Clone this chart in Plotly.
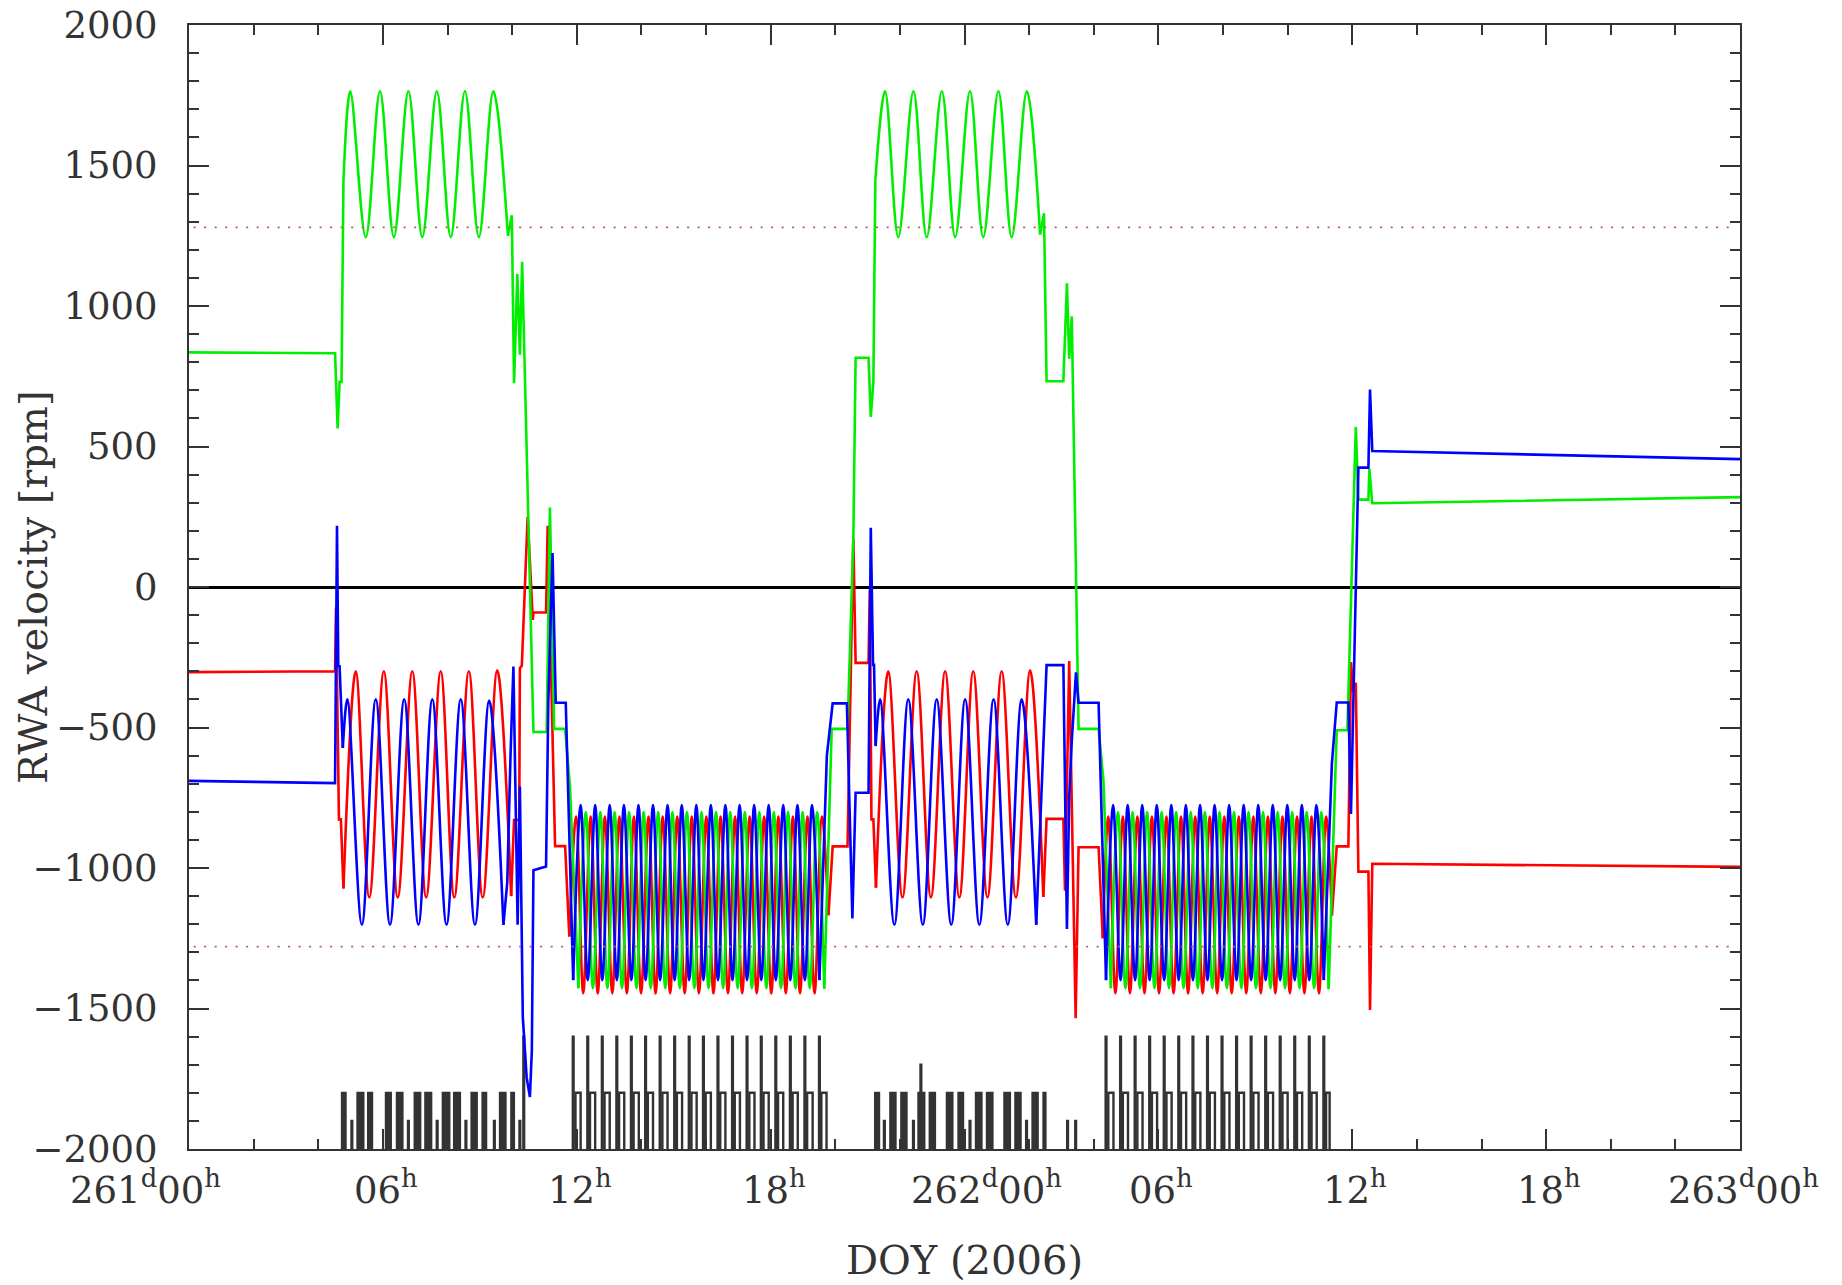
import plotly.graph_objects as go

# ---------------- data (hours since 261d00h, rpm) ----------------
red_a_t = [0.0, 4.52, 4.55, 4.64, 4.70, 4.78]
red_a_v = [-303, -300, -73, -827, -827, -1073]
red_s1_t = [4.78, 5.16, 5.58, 6.03, 6.46, 6.91, 7.34, 7.79, 8.21, 8.66, 9.09, 9.54, 9.97]
red_s1_v = [-1073, -300, -1105, -300, -1105, -300, -1105, -300, -1105, -300, -1105, -296, -1100]
red_b_t = [9.97, 10.06, 10.22, 10.24, 10.30, 10.48, 10.64, 10.66, 11.05, 11.10, 11.33, 11.64, 11.77]
red_b_v = [-1100, -829, -829, -289, -280, 250, -117, -91, -91, 218, -922, -922, -1244]
red_f1_t = [11.77, 11.98, 12.20, 12.43, 12.65, 12.87, 13.10, 13.32, 13.55, 13.77, 13.99, 14.22, 14.44,
            14.66, 14.89, 15.11, 15.34, 15.56, 15.78, 16.01, 16.23, 16.45, 16.68, 16.90, 17.12, 17.35,
            17.57, 17.80, 18.02, 18.24, 18.47, 18.69, 18.91, 19.14, 19.36, 19.59, 19.79]
red_f1_v = [-1244, -817, -1446, -817, -1446, -817, -1446, -817, -1446, -817, -1446, -817, -1446,
            -817, -1446, -817, -1446, -817, -1446, -817, -1446, -817, -1446, -817, -1446, -817,
            -1446, -817, -1446, -817, -1446, -817, -1446, -817, -1446, -817, -1168]
red_c_t = [19.79, 19.92, 20.38, 20.56, 20.63, 21.03, 21.07, 21.12, 21.18, 21.26]
red_c_v = [-1168, -923, -923, 173, -270, -270, -9, -827, -827, -1070]
red_s2_t = [21.26, 21.64, 22.08, 22.52, 22.96, 23.40, 23.84, 24.27, 24.71, 25.15, 25.59, 26.03, 26.44]
red_s2_v = [-1070, -300, -1105, -300, -1105, -300, -1105, -300, -1105, -300, -1105, -296, -1103]
red_d_t = [26.44, 26.54, 27.06, 27.11, 27.24, 27.44, 27.53, 28.15, 28.28]
red_d_v = [-1103, -825, -825, -1081, -263, -1535, -926, -926, -1250]
red_f2_t = [28.28, 28.45, 28.67, 28.90, 29.12, 29.35, 29.57, 29.80, 30.02, 30.25, 30.47, 30.70, 30.92,
            31.14, 31.37, 31.59, 31.82, 32.04, 32.27, 32.49, 32.72, 32.94, 33.17, 33.39, 33.62, 33.84,
            34.07, 34.29, 34.52, 34.74, 34.97, 35.19, 35.37]
red_f2_v = [-1250, -817, -1446, -817, -1446, -817, -1446, -817, -1446, -817, -1446, -817, -1446,
            -817, -1446, -817, -1446, -817, -1446, -817, -1446, -817, -1446, -817, -1446, -817,
            -1446, -817, -1446, -817, -1446, -817, -1169]
red_e_t = [35.37, 35.52, 35.88, 35.96, 36.03, 36.11, 36.19, 36.50, 36.55, 36.62, 48.0]
red_e_v = [-1169, -923, -923, -267, -374, -341, -1013, -1013, -1505, -985, -996]

blue_a_t = [0.0, 4.52, 4.58, 4.62, 4.66, 4.76]
blue_a_v = [-690, -698, 218, -282, -282, -573]
blue_s1_t = [4.76, 4.90, 5.35, 5.78, 6.22, 6.66, 7.10, 7.53, 7.97, 8.41, 8.85, 9.29, 9.73]
blue_s1_v = [-573, -400, -1202, -400, -1202, -400, -1202, -400, -1202, -400, -1202, -404, -1202]
blue_b_t = [9.73, 9.85, 9.95, 10.04, 10.17, 10.24, 10.33, 10.45, 10.55, 10.61, 10.66, 11.05, 11.12,
            11.25, 11.35, 11.66, 11.89]
blue_b_v = [-1202, -1050, -600, -283, -1202, -710, -1530, -1746, -1815, -1650, -1008, -995, -412,
            121, -412, -412, -1399]
blue_f1_t = [11.89, 12.12, 12.34, 12.57, 12.79, 13.02, 13.24, 13.46, 13.69, 13.91, 14.13, 14.36, 14.58,
             14.81, 15.03, 15.25, 15.48, 15.70, 15.92, 16.15, 16.37, 16.60, 16.82, 17.04, 17.27, 17.49,
             17.71, 17.94, 18.16, 18.39, 18.61, 18.83, 19.06, 19.28, 19.51]
blue_f1_v = [-1399, -776, -1399, -776, -1399, -776, -1399, -776, -1399, -776, -1399, -776, -1399,
             -776, -1399, -776, -1399, -776, -1399, -776, -1399, -776, -1399, -776, -1399, -776,
             -1399, -776, -1399, -776, -1399, -776, -1399, -776, -1399]
blue_c_t = [19.51, 19.74, 19.92, 20.36, 20.53, 20.63, 21.03, 21.10, 21.17, 21.20, 21.25]
blue_c_v = [-1399, -600, -414, -414, -1180, -732, -732, 211, -277, -277, -566]
blue_s2_t = [21.25, 21.39, 21.83, 22.26, 22.71, 23.14, 23.59, 24.02, 24.46, 24.90, 25.34, 25.77, 26.22]
blue_s2_v = [-566, -400, -1202, -400, -1202, -400, -1202, -400, -1202, -400, -1202, -400, -1202]
blue_d_t = [26.22, 26.40, 26.54, 27.06, 27.17, 27.24, 27.32, 27.45, 27.53, 28.15, 28.38]
blue_d_v = [-1202, -700, -278, -278, -1217, -749, -548, -304, -412, -412, -1399]
blue_f2_t = [28.38, 28.60, 28.83, 29.05, 29.28, 29.50, 29.73, 29.95, 30.18, 30.40, 30.63, 30.85, 31.07,
             31.29, 31.52, 31.74, 31.97, 32.19, 32.42, 32.64, 32.87, 33.09, 33.32, 33.54, 33.77, 33.99,
             34.22, 34.44, 34.67, 34.89, 35.12]
blue_f2_v = [-1399, -776, -1399, -776, -1399, -776, -1399, -776, -1399, -776, -1399, -776, -1399,
             -776, -1399, -776, -1399, -776, -1399, -776, -1399, -776, -1399, -776, -1399, -776,
             -1399, -776, -1399, -776, -1399]
blue_e_t = [35.12, 35.37, 35.52, 35.88, 35.96, 36.19, 36.50, 36.55, 36.62, 48.0]
blue_e_v = [-1398, -628, -411, -411, -808, 425, 425, 703, 484, 455]

green_a_t = [0.0, 4.52, 4.60, 4.66, 4.72, 4.78]
green_a_v = [835, 832, 564, 730, 730, 1445]
green_s1_t = [4.78, 4.99, 5.47, 5.91, 6.34, 6.79, 7.22, 7.67, 8.10, 8.54, 8.97, 9.42, 9.87]
green_s1_v = [1445, 1764, 1245, 1764, 1245, 1764, 1245, 1764, 1245, 1764, 1245, 1764, 1250]
green_b_t = [9.87, 9.99, 10.06, 10.16, 10.24, 10.31, 10.66, 11.07, 11.17, 11.30, 11.64, 11.79, 12.05]
green_b_v = [1250, 1323, 725, 1114, 827, 1157, -516, -516, 283, -505, -505, -710, -1428]
green_f1_t = [12.05, 12.28, 12.50, 12.73, 12.95, 13.17, 13.40, 13.62, 13.85, 14.07, 14.29, 14.52, 14.74,
              14.96, 15.19, 15.41, 15.64, 15.86, 16.08, 16.31, 16.53, 16.75, 16.98, 17.20, 17.42, 17.65,
              17.87, 18.10, 18.32, 18.54, 18.77, 18.99, 19.21, 19.44, 19.66]
green_f1_v = [-1428, -801, -1428, -801, -1428, -801, -1428, -801, -1428, -801, -1428, -801, -1428,
              -801, -1428, -801, -1428, -801, -1428, -801, -1428, -801, -1428, -801, -1428, -801,
              -1428, -801, -1428, -801, -1428, -801, -1428, -801, -1430]
green_c_t = [19.66, 19.89, 20.38, 20.56, 20.63, 21.03, 21.10, 21.18, 21.24]
green_c_v = [-1430, -505, -505, 173, 816, 816, 605, 730, 1445]
green_s2_t = [21.24, 21.54, 21.95, 22.42, 22.83, 23.30, 23.71, 24.17, 24.58, 25.05, 25.46, 25.93, 26.34]
green_s2_v = [1445, 1764, 1245, 1764, 1245, 1764, 1245, 1764, 1245, 1764, 1245, 1764, 1254]
green_d_t = [26.34, 26.46, 26.54, 27.06, 27.17, 27.24, 27.32, 27.53, 28.15, 28.30, 28.53]
green_d_v = [1254, 1330, 732, 732, 1081, 812, 963, -505, -505, -689, -1428]
green_f2_t = [28.53, 28.75, 28.98, 29.20, 29.43, 29.65, 29.88, 30.10, 30.33, 30.55, 30.78, 31.00, 31.22,
              31.44, 31.67, 31.89, 32.12, 32.34, 32.57, 32.79, 33.02, 33.24, 33.47, 33.69, 33.92, 34.14,
              34.37, 34.59, 34.82, 35.04, 35.27]
green_f2_v = [-1428, -801, -1428, -801, -1428, -801, -1428, -801, -1428, -801, -1428, -801, -1428,
              -801, -1428, -801, -1428, -801, -1428, -801, -1428, -801, -1428, -801, -1428, -801,
              -1428, -801, -1428, -801, -1431]
green_e_t = [35.27, 35.52, 35.85, 36.11, 36.19, 36.50, 36.53, 36.62, 48.0]
green_e_v = [-1431, -510, -510, 569, 311, 311, 420, 298, 320]

# black activity trace at the bottom
block_start = [4.73, 5.21, 5.54, 6.09, 6.43, 6.98, 7.31, 7.85, 8.20, 8.74, 9.08, 9.62, 9.97,
               21.23, 21.70, 22.04, 22.57, 22.92, 23.45, 23.81, 24.35, 24.69, 25.23, 25.57, 26.10, 26.44]
block_end = [4.85, 5.40, 5.67, 6.25, 6.61, 7.16, 7.50, 8.06, 8.39, 8.91, 9.20, 9.80, 10.06,
             21.36, 21.87, 22.21, 22.76, 23.09, 23.63, 23.96, 24.53, 24.87, 25.41, 25.74, 26.27, 26.51]
block_level = -1800
spike_t = [5.04, 6.79, 7.68, 8.57, 9.45, 10.24, 10.36, 22.65, 21.52, 22.42, 24.17, 25.92, 27.19, 27.44,
           11.89, 12.34, 12.79, 13.24, 13.69, 14.13, 14.58, 15.03, 15.48, 15.92, 16.37, 16.82, 17.27,
           17.71, 18.16, 18.61, 19.06, 19.51,
           28.38, 28.83, 29.28, 29.73, 30.18, 30.63, 31.07, 31.52, 31.97, 32.42, 32.87, 33.32, 33.77,
           34.22, 34.67, 35.12]
spike_v = [-1900, -1900, -1900, -1900, -1900, -1900, -1600, -1700, -1900, -1900, -1900, -1900, -1900, -1900,
           -1600, -1600, -1600, -1600, -1600, -1600, -1600, -1600, -1600, -1600, -1600, -1600, -1600,
           -1600, -1600, -1600, -1600, -1600,
           -1600, -1600, -1600, -1600, -1600, -1600, -1600, -1600, -1600, -1600, -1600, -1600, -1600,
           -1600, -1600, -1600]
box_start = [11.96, 12.41, 12.86, 13.31, 13.76, 14.20, 14.65, 15.10, 15.55, 15.99, 16.44, 16.89, 17.34,
             17.78, 18.23, 18.68, 19.13, 19.57,
             28.45, 28.90, 29.35, 29.80, 30.25, 30.70, 31.14, 31.59, 32.04, 32.49, 32.94, 33.39, 33.84,
             34.29, 34.74, 35.19]
box_end = [12.12, 12.57, 13.02, 13.47, 13.92, 14.36, 14.81, 15.26, 15.71, 16.15, 16.60, 17.05, 17.50,
           17.94, 18.39, 18.84, 19.30, 19.73,
           28.61, 29.06, 29.51, 29.96, 30.41, 30.86, 31.30, 31.75, 32.20, 32.65, 33.10, 33.55, 34.00,
           34.45, 34.90, 35.30]
box_level = -1800

limit_rpm = 1280
x_tickvals = [0, 6, 12, 18, 24, 30, 36, 42, 48]
x_ticktext = ["261<sup>d</sup>00<sup>h</sup>", "06<sup>h</sup>", "12<sup>h</sup>", "18<sup>h</sup>",
              "262<sup>d</sup>00<sup>h</sup>", "06<sup>h</sup>", "12<sup>h</sup>", "18<sup>h</sup>",
              "263<sup>d</sup>00<sup>h</sup>"]
y_tickvals = [-2000, -1500, -1000, -500, 0, 500, 1000, 1500, 2000]
y_ticktext = ["\u22122000", "\u22121500", "\u22121000", "\u2212500", "0", "500", "1000", "1500", "2000"]
Y_MIN, Y_MAX = -2000, 2000

# ---------------- figure ----------------
fig = go.Figure()
FONT = "DejaVu Serif"
INK = "#333333"
FS = 37
FS_TITLE = 40
LW = 2.6

# black activity trace
bx, by = [], []
for s, e in zip(block_start, block_end):
    bx += [s, s, e, e, s, None]
    by += [Y_MIN, block_level, block_level, Y_MIN, Y_MIN, None]
fig.add_trace(go.Scatter(x=bx, y=by, mode="lines", fill="toself", fillcolor=INK,
                         line=dict(color=INK, width=2), hoverinfo="skip"))
sx, sy = [], []
for t, v in zip(spike_t, spike_v):
    sx += [t - 0.012, t - 0.012, t + 0.012, t + 0.012, None]
    sy += [Y_MIN, v, v, Y_MIN, None]
for s, e in zip(box_start, box_end):
    sx += [s, s, e, e, None]
    sy += [Y_MIN, box_level, box_level, Y_MIN, None]
fig.add_trace(go.Scatter(x=sx, y=sy, mode="lines", line=dict(color=INK, width=2.4), hoverinfo="skip"))

series = {
    "#ff0000": [(red_a_t, red_a_v, False), (red_s1_t, red_s1_v, True), (red_b_t, red_b_v, False),
                (red_f1_t, red_f1_v, True), (red_c_t, red_c_v, False), (red_s2_t, red_s2_v, True),
                (red_d_t, red_d_v, False), (red_f2_t, red_f2_v, True), (red_e_t, red_e_v, False)],
    "#00ee00": [(green_a_t, green_a_v, False), (green_s1_t, green_s1_v, True), (green_b_t, green_b_v, False),
                (green_f1_t, green_f1_v, True), (green_c_t, green_c_v, False), (green_s2_t, green_s2_v, True),
                (green_d_t, green_d_v, False), (green_f2_t, green_f2_v, True), (green_e_t, green_e_v, False)],
    "#0000ff": [(blue_a_t, blue_a_v, False), (blue_s1_t, blue_s1_v, True), (blue_b_t, blue_b_v, False),
                (blue_f1_t, blue_f1_v, True), (blue_c_t, blue_c_v, False), (blue_s2_t, blue_s2_v, True),
                (blue_d_t, blue_d_v, False), (blue_f2_t, blue_f2_v, True), (blue_e_t, blue_e_v, False)],
}
for color, segs in series.items():
    for t, v, smooth in segs:
        fig.add_trace(go.Scatter(
            x=t, y=v, mode="lines", hoverinfo="skip",
            line=dict(color=color, width=LW, shape="spline" if smooth else "linear", smoothing=1.0)))

# limit lines
for lv in (limit_rpm, -limit_rpm):
    fig.add_shape(type="line", xref="paper", x0=0.003, x1=0.997, yref="y", y0=lv, y1=lv,
                  line=dict(color="#b06060", width=1.8, dash="2px,8.5px"), layer="above")

# x tick labels as annotations (the day labels are offset like the original)
x_label_shift = [-44, 3, 3, 3, 22, 3, 3, 3, 3]
annotations = []
for tv, tt, sh in zip(x_tickvals, x_ticktext, x_label_shift):
    annotations.append(dict(text=tt, xref="x", yref="paper", x=tv, y=-0.0565, xshift=sh,
                            xanchor="center", yanchor="bottom", showarrow=False, borderpad=0,
                            font=dict(family=FONT, size=FS, color=INK)))
annotations += [
    dict(text="DOY (2006)", xref="paper", yref="paper", x=0.5, y=-0.099,
         xanchor="center", yanchor="middle", showarrow=False, borderpad=0,
         font=dict(family=FONT, size=FS_TITLE, color=INK)),
    dict(text="RWA velocity [rpm]", xref="paper", yref="paper", x=-0.1006, y=0.5,
         xanchor="center", yanchor="middle", textangle=-90, showarrow=False, borderpad=0,
         font=dict(family=FONT, size=FS_TITLE, color=INK)),
]

tickfont = dict(family=FONT, size=FS, color=INK)
fig.update_layout(
    width=1842, height=1285,
    margin=dict(l=189, r=102, t=25, b=136),
    plot_bgcolor="white", paper_bgcolor="white",
    showlegend=False,
    xaxis=dict(range=[0, 48], showgrid=False, zeroline=False, automargin=False,
               showline=True, linecolor=INK, linewidth=2, mirror="allticks",
               ticks="inside", ticklen=20, tickwidth=1.8, tickcolor=INK,
               tickvals=x_tickvals, showticklabels=False,
               minor=dict(ticks="inside", ticklen=10, tickwidth=1.8, tickcolor=INK,
                          dtick=2, tick0=0, showgrid=False)),
    yaxis=dict(range=[Y_MIN, Y_MAX], showgrid=False, automargin=False,
               zeroline=True, zerolinecolor="black", zerolinewidth=3,
               showline=True, linecolor=INK, linewidth=2, mirror="allticks",
               ticks="inside", ticklen=20, tickwidth=1.8, tickcolor=INK,
               tickvals=y_tickvals, ticktext=y_ticktext, tickfont=tickfont,
               ticklabelstandoff=22,
               minor=dict(ticks="inside", ticklen=10, tickwidth=1.8, tickcolor=INK,
                          dtick=100, tick0=0, showgrid=False)),
    annotations=annotations,
)

fig.write_html("out.html", config={"displayModeBar": False},
               post_script="document.body.style.margin='0';")
